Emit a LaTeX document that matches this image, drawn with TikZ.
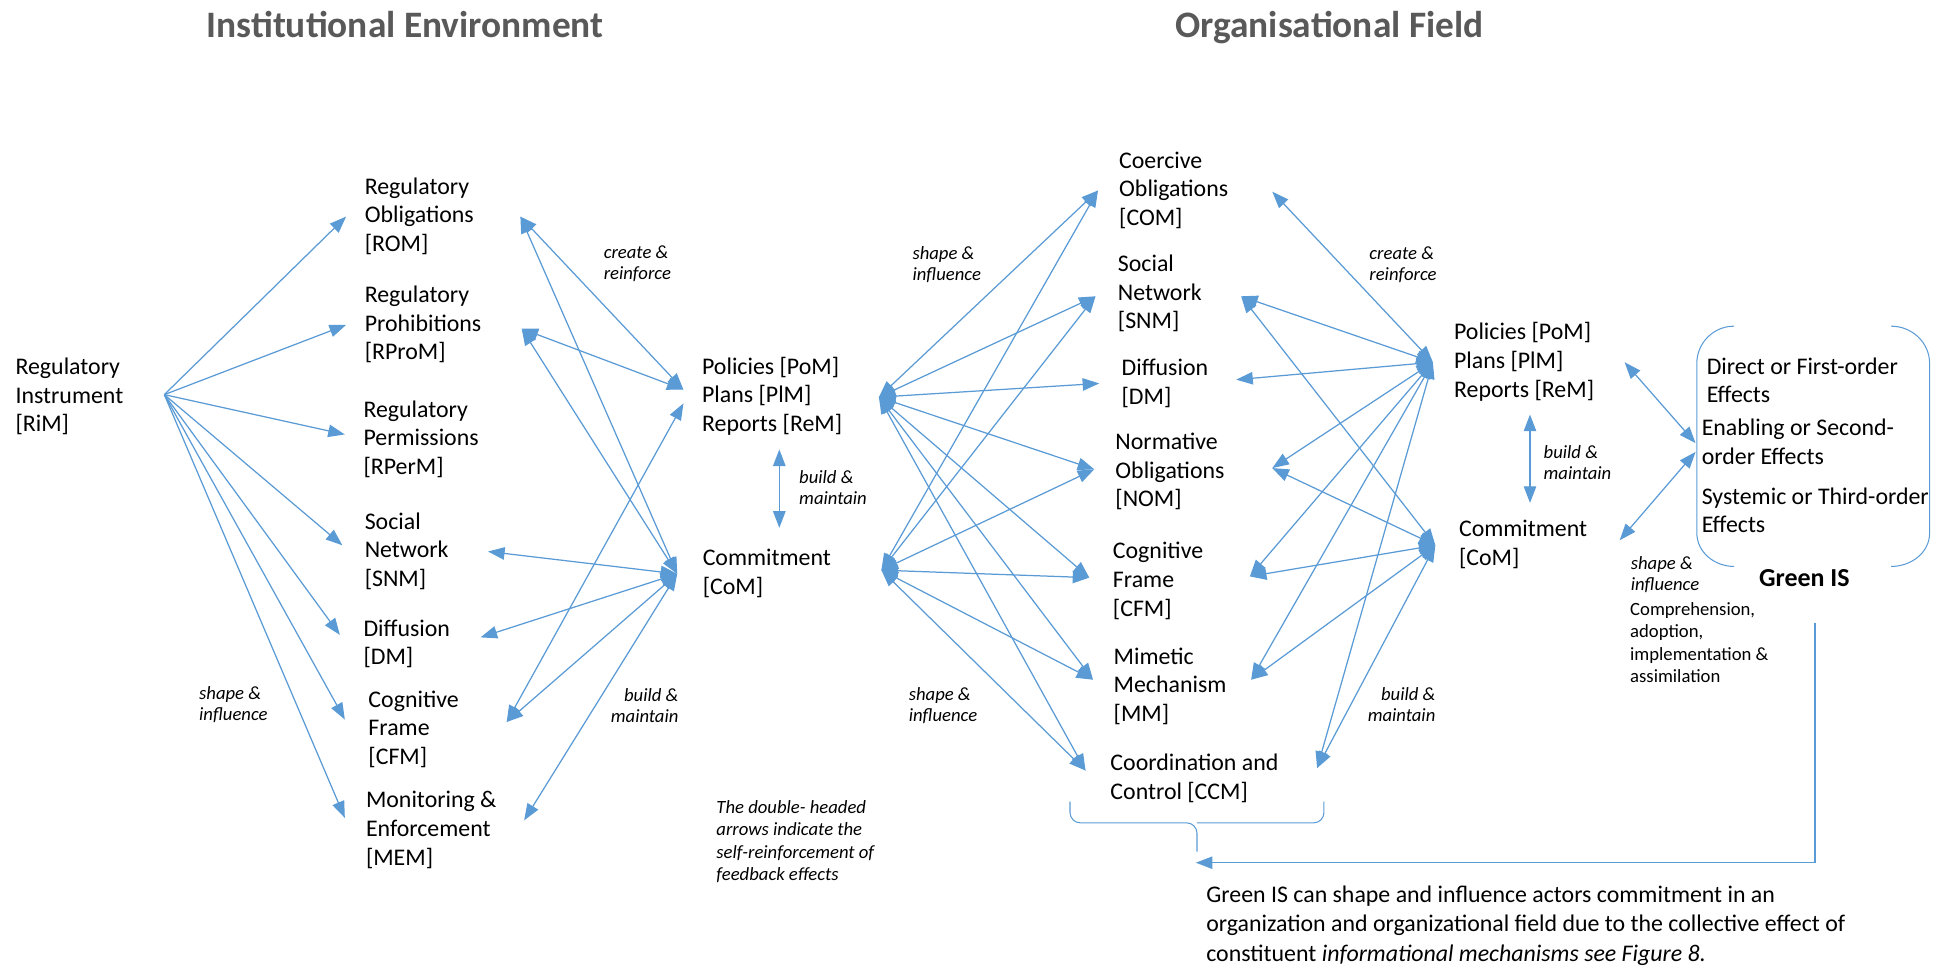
\documentclass[tikz,border=0pt]{standalone}
\usepackage{fontspec}
\setmainfont{Carlito}
\usetikzlibrary{arrows.meta}
\definecolor{linkblue}{HTML}{5B9BD5}
\definecolor{headgray}{HTML}{595959}
% multi-line text blocks whose baseline is that of the first line
\newcommand{\txtl}[1]{\begin{tabular}[t]{@{}l@{}}#1\end{tabular}}
\newcommand{\txtr}[1]{\begin{tabular}[t]{@{}r@{}}#1\end{tabular}}

\begin{document}
\begin{tikzpicture}[x=0.6pt,y=-0.6pt,
  every node/.style={inner sep=0pt,outer sep=0pt},
  body/.style={anchor=base west,font=\fontsize{11.5}{13.8}\selectfont},
  small/.style={anchor=base west,font=\fontsize{9}{10.7}\selectfont},
  note/.style={anchor=base west,font=\fontsize{9}{10.2}\selectfont\itshape},
  noteR/.style={anchor=base east,font=\fontsize{9}{10.2}\selectfont\itshape},
  heading/.style={anchor=base west,font=\fontsize{18}{21}\selectfont\bfseries,text=headgray},
  conn/.style={draw=linkblue,line width=0.6pt,>={Triangle[length=8pt,width=6pt]},color=linkblue},
  bracket/.style={draw=linkblue,line width=0.5pt}
]
\useasboundingbox (0,0) rectangle (1568,777);

% ---------- headings ----------
\node[heading] (ttlIE) at (166,30) {Institutional Environment};
\node[heading] (ttlOF) at (944,30) {Organisational Field};

% ---------- institutional environment ----------
\node[body] (rim)   at (12.5,301) {\txtl{Regulatory\\Instrument\\{}[RiM]}};
\node[body] (rom)   at (293,156)  {\txtl{Regulatory\\Obligations\\{}[ROM]}};
\node[body] (rprom) at (293,243)  {\txtl{Regulatory\\Prohibitions\\{}[RProM]}};
\node[body] (rperm) at (292,335)  {\txtl{Regulatory\\Permissions\\{}[RPerM]}};
\node[body] (snmA)  at (293,425)  {\txtl{Social\\Network\\{}[SNM]}};
\node[body] (dmA)   at (292,511)  {\txtl{Diffusion\\{}[DM]}};
\node[body] (cfmA)  at (296,568)  {\txtl{Cognitive\\Frame\\{}[CFM]}};
\node[body] (mem)   at (294,649)  {\txtl{Monitoring \&\\Enforcement\\{}[MEM]}};
\node[body] (pomA)  at (564,300.5){\txtl{Policies [PoM]\\Plans [PlM]\\Reports [ReM]}};
\node[body] (comA)  at (564.5,454.5){\txtl{Commitment\\{}[CoM]}};

% ---------- organisational field ----------
\node[body] (com)   at (899,135)  {\txtl{Coercive\\Obligations\\{}[COM]}};
\node[body] (snmB)  at (898,218)  {\txtl{Social\\Network\\{}[SNM]}};
\node[body] (dmB)   at (901,302)  {\txtl{Diffusion\\{}[DM]}};
\node[body] (nom)   at (896,361)  {\txtl{Normative\\Obligations\\{}[NOM]}};
\node[body] (cfmB)  at (894,449)  {\txtl{Cognitive\\Frame\\{}[CFM]}};
\node[body] (mm)    at (894.6,533.5){\txtl{Mimetic\\Mechanism\\{}[MM]}};
\node[body] (ccm)   at (892,619)  {\txtl{Coordination and\\Control [CCM]}};
\node[body] (pomB)  at (1168,273) {\txtl{Policies [PoM]\\Plans [PlM]\\Reports [ReM]}};
\node[body] (comB)  at (1172,431) {\txtl{Commitment\\{}[CoM]}};

% ---------- Green IS ----------
\node[body] (effA) at (1371,300.5) {\txtl{Direct or First-order\\Effects}};
\node[body] (effB) at (1367,350)   {\txtl{Enabling or Second-\\order Effects}};
\node[body] (effC) at (1367,405)   {\txtl{Systemic or Third-order\\Effects}};
\node[anchor=base west,font=\fontsize{12.5}{15}\selectfont\bfseries] (gis) at (1413,471.5) {Green IS};
\node[small] (compr) at (1309.5,494.5) {\txtl{Comprehension,\\adoption,\\implementation \&\\assimilation}};
\node[anchor=base west,font=\fontsize{11.5}{14.1}\selectfont] (summary) at (969,725)
  {\txtl{Green IS can shape and influence actors commitment in an\\organization and organizational field due to the collective effect of\\constituent \textit{informational mechanisms see Figure 8.}}};

% ---------- edge labels ----------
\node[note]  (shA) at (160,561.5)  {\txtl{shape \&\\influence}};
\node[note]  (crA) at (485,207.5)  {\txtl{create \&\\reinforce}};
\node[noteR] (bmA) at (545,563.5)  {\txtr{build \&\\maintain}};
\node[note]  (bmB) at (642,388.5)  {\txtl{build \&\\maintain}};
\node[anchor=base west,font=\fontsize{9}{10.8}\selectfont\itshape] (fb) at (575.5,653.5)
  {\txtl{The double- headed\\arrows indicate the\\self-reinforcement of\\feedback effects}};
\node[note]  (shB) at (733,208.5)  {\txtl{shape \&\\influence}};
\node[note]  (shC) at (730,562.5)  {\txtl{shape \&\\influence}};
\node[note]  (crB) at (1100,208.5) {\txtl{create \&\\reinforce}};
\node[noteR] (bmC) at (1153,562.5) {\txtr{build \&\\maintain}};
\node[note]  (bmD) at (1240,368.5) {\txtl{build \&\\maintain}};
\node[note]  (shD) at (1310,457.5) {\txtl{shape \&\\influence}};

% ---------- connector ports ----------
\coordinate (rimP)   at (132,317);
\coordinate (romL)   at (278,174);
\coordinate (rpromL) at (278,261);
\coordinate (rpermL) at (277,349);
\coordinate (snmAL)  at (275,438);
\coordinate (dmAL)   at (273,510);
\coordinate (cfmAL)  at (277,578);
\coordinate (memL)   at (277,657);
\coordinate (romR)   at (418,174);
\coordinate (rpromR) at (419,264);
\coordinate (snmAR)  at (392,443);
\coordinate (dmAR)   at (386,512);
\coordinate (cfmAR)  at (407,580);
\coordinate (memR)   at (421,659);
\coordinate (pomAin) at (549,313);
\coordinate (pomAlo) at (549,324);
\coordinate (comAL)  at (544,461);
\coordinate (pomAR)  at (706,319);
\coordinate (comAR)  at (708,458);
\coordinate (vA1)    at (626,361);
\coordinate (vA2)    at (626,424);

\coordinate (comL)   at (882,153);
\coordinate (snmBL)  at (880,238);
\coordinate (dmBL)   at (883,308);
\coordinate (nomL)   at (879,377);
\coordinate (cfmBL)  at (875,464);
\coordinate (mmL)    at (878,546);
\coordinate (ccmL)   at (872,619);
\coordinate (comR)   at (1022,154);
\coordinate (snmBR)  at (997,238);
\coordinate (dmBR)   at (993,305);
\coordinate (nomR)   at (1022,376);
\coordinate (cfmBR)  at (1004,463);
\coordinate (mmR)    at (1005,546);
\coordinate (ccmR)   at (1058,617);
\coordinate (pomBL)  at (1151,291);
\coordinate (comBL)  at (1153,438);
\coordinate (vB1)    at (1229,333);
\coordinate (vB2)    at (1229,404);
\coordinate (pomBR)  at (1305,291);
\coordinate (comBR)  at (1301,434);
\coordinate (gisA)   at (1362,356);
\coordinate (gisB)   at (1362,363);
\coordinate (gisOut) at (1458,500.5);
\coordinate (fbTip)  at (960.6,693);

% ---------- regulatory instrument fan ----------
\foreach \t in {romL,rpromL,rpermL,snmAL,dmAL,cfmAL,memL}
  \draw[conn,->] (rimP) -- (\t);

% ---------- create & reinforce / build & maintain (institutional) ----------
\draw[conn,<->] (romR) -- (pomAin);
\draw[conn,<->] (rpromR) -- (pomAin);
\draw[conn,<->] (cfmAR) -- (pomAlo);
\foreach \t in {romR,rpromR,snmAR,dmAR,cfmAR,memR}
  \draw[conn,<->] (\t) -- (comAL);
\draw[conn,<->] (vA1) -- (vA2);

% ---------- shape & influence (organisational field) ----------
\foreach \t in {comL,snmBL,dmBL,nomL,cfmBL,mmL,ccmL}
  \draw[conn,<->] (pomAR) -- (\t);
\foreach \t in {comL,snmBL,nomL,cfmBL,mmL,ccmL}
  \draw[conn,<->] (comAR) -- (\t);

% ---------- create & reinforce / build & maintain (organisational) ----------
\foreach \t in {comR,snmBR,dmBR,nomR,cfmBR,mmR,ccmR}
  \draw[conn,<->] (\t) -- (pomBL);
\foreach \t in {snmBR,nomR,cfmBR,mmR,ccmR}
  \draw[conn,<->] (\t) -- (comBL);
\draw[conn,<->] (vB1) -- (vB2);

% ---------- Green IS ----------
\draw[conn,<->] (pomBR) -- (gisA);
\draw[conn,<->] (comBR) -- (gisB);
\draw[bracket] (1393,262) to[out=180,in=90] (1363,292) -- (1363,428) to[out=-90,in=180] (1393,455);
\draw[bracket] (1519,262) to[out=0,in=90] (1550,292) -- (1550,428) to[out=-90,in=0] (1519,455);

% brace under the organisational field mechanisms
\draw[bracket,rounded corners=5pt] (859.5,644) |- (961.5,661) -- (961.5,684);
\draw[bracket,rounded corners=5pt] (1063.5,644) |- (961.5,661);

% feedback from Green IS
\draw[conn,->] (gisOut) |- (fbTip);
\end{tikzpicture}
\end{document}
